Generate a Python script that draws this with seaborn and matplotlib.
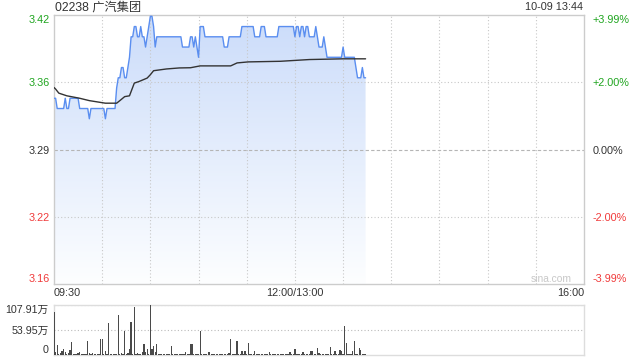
import numpy as np
import pandas as pd
import matplotlib
matplotlib.use("Agg")
import matplotlib.pyplot as plt
import seaborn as sns

# ---------------- data ----------------
title = "02238 广汽集团"
stamp = "10-09 13:44"
prev_close = 3.29
range_pct = 0.0399

# minute-by-minute last price, as (level, number of minutes) runs
price_levels = [3.34, 3.33, 3.34, 3.33, 3.34, 3.33, 3.32, 3.33, 3.32, 3.33,
                3.35, 3.36, 3.37, 3.36, 3.37, 3.38, 3.40, 3.41, 3.40, 3.41,
                3.40, 3.39, 3.40, 3.41, 3.42, 3.41, 3.39, 3.40, 3.39, 3.40,
                3.39, 3.40, 3.39, 3.38, 3.41, 3.40, 3.39, 3.40, 3.41, 3.40,
                3.41, 3.40, 3.41, 3.40, 3.41, 3.40, 3.41, 3.40, 3.41, 3.40,
                3.41, 3.40, 3.39, 3.40, 3.39, 3.38, 3.39, 3.38, 3.37, 3.36,
                3.37, 3.36]
price_runs = [2, 5, 1, 2, 6, 6, 1, 9, 1, 6,
              1, 2, 2, 2, 1, 1, 2, 2, 2, 1,
              2, 1, 1, 1, 2, 1, 1, 16, 5, 2,
              1, 1, 1, 1, 3, 12, 3, 8, 8, 4,
              3, 8, 10, 1, 2, 1, 2, 1, 2, 4,
              1, 1, 3, 1, 1, 10, 1, 7, 1, 3,
              1, 2]

# average price line (minute, value)
avg_minutes = [0, 1, 3, 8, 16, 22, 32, 39, 41, 44, 47, 50, 53, 58, 60, 62,
               70, 78, 85, 91, 110, 114, 121, 141, 159, 180, 194]
avg_values = [3.3505, 3.349, 3.345, 3.3424, 3.340, 3.3377, 3.3352, 3.3352,
              3.3377, 3.3416, 3.3424, 3.3548, 3.3564, 3.3597, 3.363, 3.3669,
              3.3686, 3.3696, 3.3698, 3.3716, 3.3716, 3.3745, 3.3755, 3.3761,
              3.3778, 3.3785, 3.3785]

# volume per minute, in 万
volume_wan = [93.5, 7, 21.6, 2, 5, 9, 12, 7, 2, 5,
              11, 28, 2, 2, 2, 3.6, 7, 2, 2, 3,
              2, 30, 5, 2, 5, 2, 3, 2, 3, 34.5,
              34.5, 1.5, 8.6, 2, 69.8, 2, 3, 2, 2.5, 2,
              86, 3, 5, 2, 52.5, 2, 5, 13, 72, 3,
              104, 3, 5, 3, 2, 7, 23.7, 7, 13, 2,
              107.91, 12, 19.4, 7, 23.7, 3, 2, 2, 2.5, 2,
              2, 2, 2.5, 19.4, 3, 2, 2, 1.5, 2, 2,
              2, 2, 7, 3, 2, 23.7, 23.7, 2, 2, 2,
              2, 51.8, 2, 2, 2.5, 2, 7, 7, 2, 2,
              2, 2, 2, 2.5, 2, 2, 2, 2, 2, 5,
              34.5, 2, 2, 3, 31, 2, 2, 8.6, 3, 8.6,
              2, 26.6, 2, 3, 2, 8.6, 2, 2, 2, 2,
              2, 2, 2, 2, 6.5, 2, 2, 3, 2, 2,
              3, 2, 2, 2, 2, 3, 2, 7, 2, 2,
              13, 2, 2, 2, 2, 6.5, 2, 2, 2, 2,
              8.6, 8.6, 2, 2, 15.8, 4.5, 2, 3, 2, 2,
              2, 2, 18, 3, 2, 9.4, 2, 2, 10.8, 8.6,
              2, 62.6, 26.6, 2, 3, 2, 8.6, 31, 3, 2,
              15.8, 10.8, 3, 2, 2]
vol_max = 107.91

left_labels = ["3.42", "3.36", "3.29", "3.22", "3.16"]
right_labels = ["+3.99%", "+2.00%", "0.00%", "-2.00%", "-3.99%"]
x_tick_minutes = [0, 150, 330]
x_tick_labels = ["09:30", "12:00/13:00", "16:00"]
vol_labels = ["107.91万", "53.95万", "0"]

# ---------------- build ----------------
price = np.repeat(price_levels, price_runs)
minutes = np.arange(len(price))
df = pd.DataFrame({"minute": minutes, "price": price, "volume": volume_wan})
avg_df = pd.DataFrame({"minute": avg_minutes, "avg": avg_values})

sns.set_theme(style="white")
plt.rcParams["font.family"] = ["Liberation Sans", "Noto Sans CJK SC", "DejaVu Sans"]

GREEN = "#1fa51f"
RED = "#f03a3a"
DARK = "#333333"
GRID = "#c8c8c8"

W, H = 640, 360
fig = plt.figure(figsize=(6.4, 3.6), dpi=100)
fig.patch.set_facecolor("white")
ax = fig.add_axes([54 / W, 1 - 284 / H, 530 / W, 269 / H])
axv = fig.add_axes([54 / W, 1 - 355 / H, 530 / W, 50 / H])

lo = prev_close * (1 - range_pct)
hi = prev_close * (1 + range_pct)
ax.set_xlim(0, 330)
ax.set_ylim(lo, hi)

# gradient fill under price line
poly = ax.fill_between(df["minute"], df["price"], lo, color="none", lw=0)
n = 256
top_c = np.array([203, 220, 250]) / 255
bot_c = np.array([253, 254, 255]) / 255
t = np.linspace(0, 1, n)[:, None]
grad = (top_c * (1 - t) + bot_c * t)[:, None, :]
im = ax.imshow(grad, extent=[0, 330, lo, hi], aspect="auto", origin="upper",
               zorder=1, interpolation="bilinear")
im.set_clip_path(poly.get_paths()[0], ax.transData)
ax.set_xlim(0, 330)
ax.set_ylim(lo, hi)

# grid
for m in range(30, 330, 30):
    ax.axvline(m, color=GRID, ls=(0, (1, 2)), lw=0.8, zorder=2)
for v in (prev_close * 1.02, prev_close * 0.98):
    ax.axhline(v, color=GRID, ls=(0, (1, 2)), lw=0.8, zorder=2)
ax.axhline(prev_close, color="#b5b5b5", ls=(0, (3, 2)), lw=0.8, zorder=2)

sns.lineplot(data=df, x="minute", y="price", ax=ax, color="#5a8ef0", lw=1.0,
             zorder=4, estimator=None)
sns.lineplot(data=avg_df, x="minute", y="avg", ax=ax, color=DARK, lw=1.0,
             zorder=5, estimator=None)

ax.set_xlabel("")
ax.set_ylabel("")
for s in ax.spines.values():
    s.set_color("#cccccc")
    s.set_linewidth(1)

ytick_vals = [hi, prev_close * 1.02, prev_close, prev_close * 0.98, lo]
colors = [GREEN, GREEN, DARK, RED, RED]
ax.set_yticks(ytick_vals)
ax.set_yticklabels(left_labels, fontsize=7.8)
ax.tick_params(axis="y", length=0, pad=3)
for lbl, c in zip(ax.get_yticklabels(), colors):
    lbl.set_color(c)
ax.get_yticklabels()[0].set_va("top")
ax.get_yticklabels()[-1].set_va("bottom")

ax.set_xticks(x_tick_minutes)
ax.set_xticklabels(x_tick_labels, fontsize=7.8, color=DARK)
ax.tick_params(axis="x", length=0, pad=3)
for lbl, ha in zip(ax.get_xticklabels(), ["left", "center", "right"]):
    lbl.set_ha(ha)

ax2 = ax.twinx()
ax2.set_ylim(lo, hi)
ax2.set_yticks(ytick_vals)
ax2.set_yticklabels(right_labels, fontsize=7.8)
ax2.tick_params(axis="y", length=0, pad=6)
for lbl, c in zip(ax2.get_yticklabels(), colors):
    lbl.set_color(c)
ax2.get_yticklabels()[0].set_va("top")
ax2.get_yticklabels()[-1].set_va("bottom")
for s in ax2.spines.values():
    s.set_visible(False)
ax2.grid(False)
ax.grid(False)

# texts
fig.text(55 / W, 1 - 7.5 / H, title, fontsize=8.8, color=DARK, va="center", ha="left")
fig.text(583 / W, 1 - 7.5 / H, stamp, fontsize=7.8, color=DARK, va="center", ha="right")
ax.text(0.939, 0.0, "sina.com", transform=ax.transAxes, fontsize=7.4,
        color="#c8c8c8", ha="center", va="bottom", zorder=6)

# volume panel
axv.set_xlim(0, 330)
axv.set_ylim(0, vol_max)
axv.bar(df["minute"], df["volume"], width=0.8, color="#4a4a4a", lw=0, zorder=3)
axv.axhline(vol_max, color="#bbbbbb", ls=(0, (1, 2)), lw=0.8, zorder=2)
axv.axhline(vol_max / 2, color="#bbbbbb", ls=(0, (1, 2)), lw=0.8, zorder=2)
for s in axv.spines.values():
    s.set_color("#dddddd")
    s.set_linewidth(1)
axv.set_xticks([])
axv.set_yticks([vol_max, vol_max / 2, 0])
axv.set_yticklabels(vol_labels, fontsize=7.7, color=DARK)
axv.tick_params(axis="y", length=0, pad=4)
axv.get_yticklabels()[0].set_va("top")
axv.get_yticklabels()[-1].set_va("bottom")
axv.grid(False)
axv.set_facecolor("white")

fig.savefig("out.png", dpi=100, facecolor="white")
